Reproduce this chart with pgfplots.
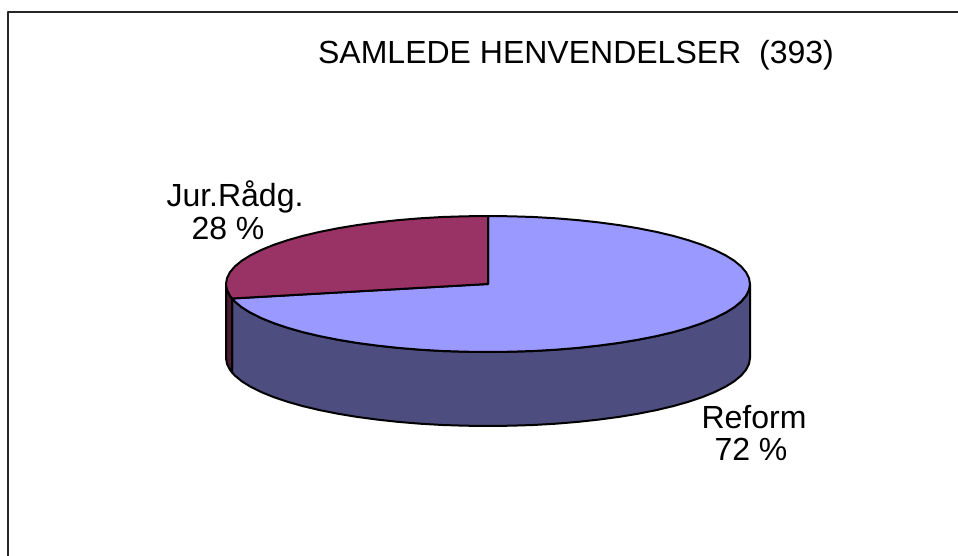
\documentclass[border=0pt]{standalone}
\usepackage{pgfplots}
\pgfplotsset{compat=1.18}
\usepackage{fontspec}
\setmainfont{Liberation Sans}
\definecolor{topblue}{HTML}{9999FF}
\definecolor{sideblue}{HTML}{4D4D80}
\definecolor{topred}{HTML}{993366}
\definecolor{sidered}{HTML}{4D1A33}
\begin{document}
\begin{tikzpicture}
\begin{axis}[
  scale only axis, width=958pt, height=556pt,
  xmin=0, xmax=958, ymin=0, ymax=556, y dir=reverse,
  hide axis, clip=true,
  every axis plot/.append style={line width=2pt, line join=round},
]
% keeps the page as large as the whole axis
\path[use as bounding box] (axis cs:0,0) rectangle (axis cs:958,556);
% frame, open at the bottom and right
\addplot[black!85, line width=2pt] coordinates {(7.5,556) (7.5,12) (958,12)};
% side of the pie
\addplot[fill=sideblue, draw=black] coordinates {
 (750,284) (749,289.9) (746,295.8) (741.1,301.6) (734.2,307.3) (725.5,312.7) (714.9,318) (702.6,323) (688.7,327.7) (673.3,332.1) (656.4,336.1) (638.3,339.7) (619,342.9) (598.7,345.6) (577.6,347.9) (555.8,349.7) (533.5,351) (510.8,351.7) (488,352)
 (465.2,351.7) (442.5,351) (420.2,349.7) (398.4,347.9) (377.3,345.6) (357,342.9) (337.7,339.7) (319.6,336.1) (302.7,332.1) (287.3,327.7) (273.4,323) (261.1,318) (250.5,312.7) (241.8,307.3) (234.9,301.6) (232,298.5)
 (232,372.5) (234.9,375.6) (241.8,381.3) (250.5,386.7) (261.1,392) (273.4,397) (287.3,401.7) (302.7,406.1) (319.6,410.1) (337.7,413.7) (357,416.9) (377.3,419.6) (398.4,421.9) (420.2,423.7) (442.5,425) (465.2,425.7) (488,426)
 (510.8,425.7) (533.5,425) (555.8,423.7) (577.6,421.9) (598.7,419.6) (619,416.9) (638.3,413.7) (656.4,410.1) (673.3,406.1) (688.7,401.7) (702.6,397) (714.9,392) (725.5,386.7) (734.2,381.3) (741.1,375.6) (746,369.8) (749,363.9) (750,358)
} -- cycle;
\addplot[fill=sidered, draw=black] coordinates {
 (226,284) (227,289.9) (230,295.8) (232,298.5) (232,372.5) (230,369.8) (227,363.9) (226,358)
} -- cycle;
% top of the pie: Reform 72 %
\addplot[fill=topblue, draw=black] coordinates {
 (488,284) (488,216) (510.8,216.3) (533.5,217) (555.8,218.3) (577.6,220.1) (598.7,222.4) (619,225.1) (638.3,228.3) (656.4,231.9) (673.3,235.9) (688.7,240.3) (702.6,245) (714.9,250) (725.5,255.3) (734.2,260.7) (741.1,266.4) (746,272.2) (749,278.1)
 (750,284) (749,289.9) (746,295.8) (741.1,301.6) (734.2,307.3) (725.5,312.7) (714.9,318) (702.6,323) (688.7,327.7) (673.3,332.1) (656.4,336.1) (638.3,339.7) (619,342.9) (598.7,345.6) (577.6,347.9) (555.8,349.7) (533.5,351) (510.8,351.7) (488,352)
 (465.2,351.7) (442.5,351) (420.2,349.7) (398.4,347.9) (377.3,345.6) (357,342.9) (337.7,339.7) (319.6,336.1) (302.7,332.1) (287.3,327.7) (273.4,323) (261.1,318) (250.5,312.7) (241.8,307.3) (234.9,301.6) (232,298.5)
} -- cycle;
% top of the pie: Jur.Raadg. 28 %
\addplot[fill=topred, draw=black] coordinates {
 (488,284) (232,298.5) (230,295.8) (227,289.9) (226,284) (227,278.1) (230,272.2) (234.9,266.4) (241.8,260.7) (250.5,255.3) (261.1,250) (273.4,245) (287.3,240.3) (302.7,235.9) (319.6,231.9) (337.7,228.3) (357,225.1) (377.3,222.4) (398.4,220.1) (420.2,218.3) (442.5,217) (465.2,216.3) (488,216)
} -- cycle;
\node[anchor=base, font=\fontsize{32}{36}\selectfont] at (axis cs:576,64) {SAMLEDE HENVENDELSER\ \ (393)};
\node[anchor=base, font=\fontsize{32}{36}\selectfont] at (axis cs:235,207) {Jur.Rådg.};
\node[anchor=base, font=\fontsize{32}{36}\selectfont] at (axis cs:228,240) {28 \%};
\node[anchor=base, font=\fontsize{32}{36}\selectfont] at (axis cs:754,428) {Reform};
\node[anchor=base, font=\fontsize{32}{36}\selectfont] at (axis cs:751,460) {72 \%};
\end{axis}
\end{tikzpicture}
\end{document}
